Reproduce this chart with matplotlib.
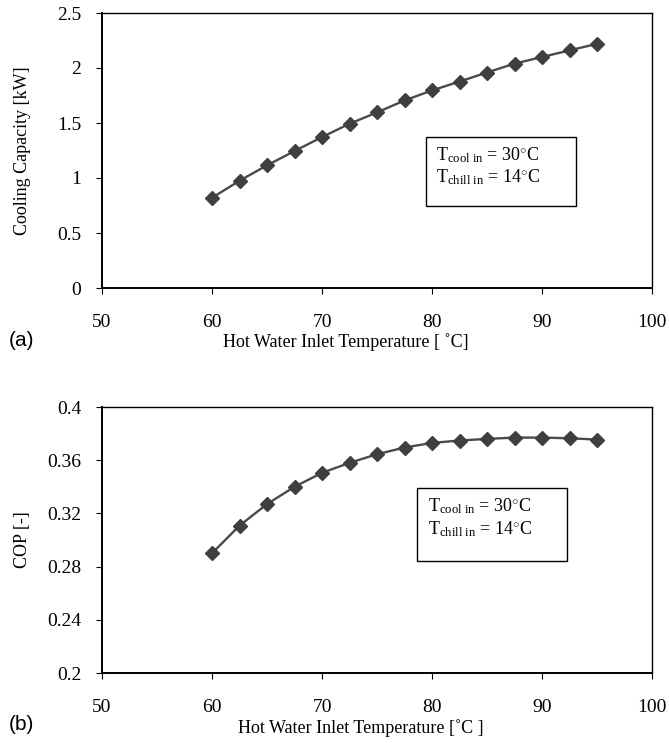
import matplotlib
matplotlib.use("Agg")
import matplotlib.pyplot as plt
from matplotlib.patches import Rectangle

temps = [60, 62.5, 65, 67.5, 70, 72.5, 75, 77.5, 80, 82.5, 85, 87.5, 90, 92.5, 95]
capacity = [0.82, 0.975, 1.115, 1.245, 1.372, 1.493, 1.596, 1.705, 1.796, 1.877,
            1.959, 2.04, 2.10, 2.16, 2.22]
cop = [0.290, 0.3108, 0.327, 0.340, 0.3505, 0.358, 0.3645, 0.3695, 0.373, 0.3748,
       0.376, 0.377, 0.377, 0.3765, 0.3755]

x_ticks = [50, 60, 70, 80, 90, 100]
cap_ticks = [0, 0.5, 1, 1.5, 2, 2.5]
cap_labels = ["0", "0.5", "1", "1.5", "2", "2.5"]
cop_ticks = [0.2, 0.24, 0.28, 0.32, 0.36, 0.4]
cop_labels = ["0.2", "0.24", "0.28", "0.32", "0.36", "0.4"]

serif = "Liberation Serif"
sans = "Liberation Sans"

plt.rcParams["mathtext.fontset"] = "custom"
plt.rcParams["mathtext.rm"] = serif
plt.rcParams["mathtext.it"] = serif

W, H = 669, 743
fig = plt.figure(figsize=(W / 100, H / 100), dpi=100)

def ax_rect(l, t, r, b):
    return [l / W, 1 - b / H, (r - l) / W, (b - t) / H]

ax1 = fig.add_axes(ax_rect(102, 13, 652, 288))
ax2 = fig.add_axes(ax_rect(102, 407, 652, 673))

line_c = "#4a4a4a"
mark_c = "#3f3f3f"
TICK_FS = 14
LAB_FS = 13

def style(ax, yt, yl, ylim):
    ax.set_xlim(50, 100)
    ax.set_ylim(*ylim)
    ax.set_xticks(x_ticks)
    ax.set_xticklabels([str(v) for v in x_ticks], fontfamily=serif, fontsize=TICK_FS)
    ax.set_yticks(yt)
    ax.set_yticklabels(yl, fontfamily=serif, fontsize=TICK_FS)
    ax.tick_params(axis="x", direction="out", length=4, pad=15, width=0.8)
    ax.tick_params(axis="y", direction="out", length=4, pad=11, width=0.8)
    for s in ["left", "bottom"]:
        ax.spines[s].set_linewidth(1.4)
    for s in ["top", "right"]:
        ax.spines[s].set_linewidth(1.0)
    for s in ax.spines.values():
        s.set_color("black")

ax1.plot(temps, capacity, color=line_c, lw=1.7, marker="D", ms=7.5,
         mfc=mark_c, mec=mark_c, clip_on=False)
style(ax1, cap_ticks, cap_labels, (0, 2.5))
ax1.set_ylabel("Cooling Capacity [kW]", fontfamily=serif, fontsize=LAB_FS)
ax1.yaxis.set_label_coords(-0.145, 0.5)
ax1.yaxis.label.set_va("center")
ax1.set_xlabel("Hot Water Inlet Temperature [ \u02daC]", fontfamily=serif, fontsize=LAB_FS)
ax1.xaxis.set_label_coords(0.444, -0.196)
ax1.xaxis.label.set_va("center")

ax2.plot(temps, cop, color=line_c, lw=1.7, marker="D", ms=7.5,
         mfc=mark_c, mec=mark_c, clip_on=False)
style(ax2, cop_ticks, cop_labels, (0.2, 0.4))
ax2.set_ylabel("COP [-]", fontfamily=serif, fontsize=LAB_FS)
ax2.yaxis.set_label_coords(-0.145, 0.5)
ax2.yaxis.label.set_va("center")
ax2.set_xlabel("Hot Water Inlet Temperature [\u02daC ]", fontfamily=serif, fontsize=LAB_FS)
ax2.xaxis.set_label_coords(0.47, -0.207)
ax2.xaxis.label.set_va("center")

def annot(ax, x0, y0, x1, y1, tx, ty1, ty2):
    ax.add_patch(Rectangle((x0, y0), x1 - x0, y1 - y0, transform=ax.transAxes,
                           fill=False, edgecolor="black", lw=1.0))
    ax.text(tx, ty1, r"T$_{\mathregular{cool\ in}}$ = 30$^{\circ}$C", transform=ax.transAxes,
            fontfamily=serif, fontsize=13, va="center", ha="left")
    ax.text(tx, ty2, r"T$_{\mathregular{chill\ in}}$ = 14$^{\circ}$C", transform=ax.transAxes,
            fontfamily=serif, fontsize=13, va="center", ha="left")

annot(ax1, 0.589, 0.298, 0.862, 0.549, 0.607, 0.484, 0.404)
annot(ax2, 0.573, 0.421, 0.845, 0.695, 0.593, 0.628, 0.541)

fig.text(9 / W, 1 - 341 / H, "(a)", fontfamily=sans, fontsize=15, va="center", ha="left")
fig.text(9 / W, 1 - 725 / H, "(b)", fontfamily=sans, fontsize=15, va="center", ha="left")

fig.savefig("out.png", dpi=100)
